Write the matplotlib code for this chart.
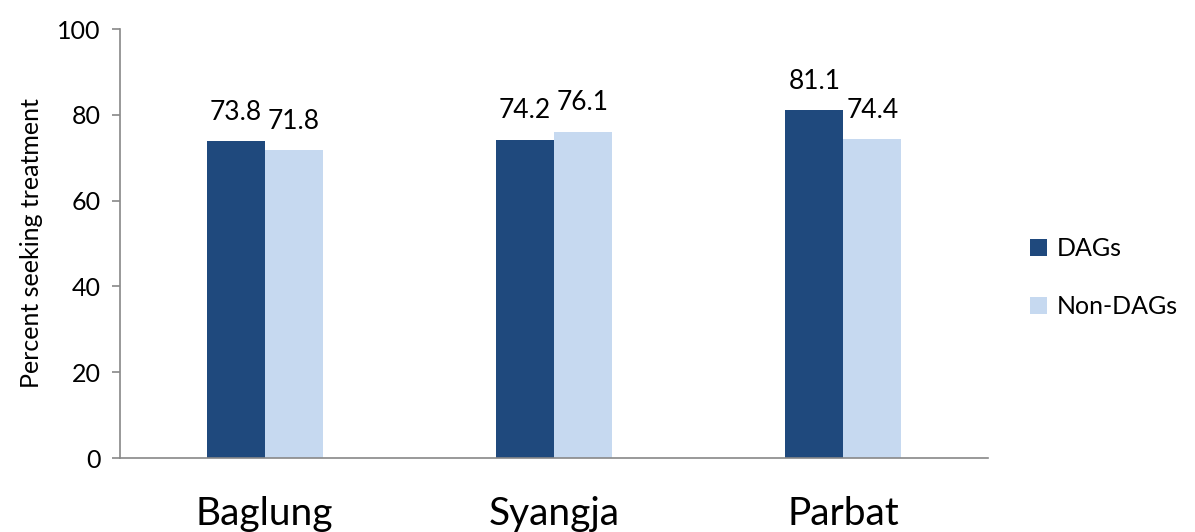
import numpy as np
import matplotlib.pyplot as plt

plt.rcParams['font.family'] = ['Lato', 'DejaVu Sans']

districts = ['Baglung', 'Syangja', 'Parbat']
dags = [73.8, 74.2, 81.1]
non_dags = [71.8, 76.1, 74.4]
series_names = ['DAGs', 'Non-DAGs']
colors = ['#1f497d', '#c6d9f0']

fig = plt.figure(figsize=(11.95, 5.32), dpi=100)
ax = fig.add_axes([0.1004, 0.139, 0.7264, 0.8064])

x = np.arange(len(districts))
w = 0.2
b1 = ax.bar(x - w / 2, dags, w, color=colors[0], label=series_names[0])
b2 = ax.bar(x + w / 2, non_dags, w, color=colors[1], label=series_names[1])

for bars in (b1, b2):
    for r in bars:
        ax.text(r.get_x() + r.get_width() / 2, r.get_height() + 3.8,
                f'{r.get_height():.1f}', ha='center', va='bottom', fontsize=19)

ax.set_xlim(-0.5, 2.5)
ax.set_ylim(0, 100)
ax.set_yticks([0, 20, 40, 60, 80, 100])
ax.set_xticks(x)
ax.set_xticklabels(districts, fontsize=28)
ax.tick_params(axis='x', length=0, pad=27)
ax.tick_params(axis='y', labelsize=18, length=6, color='#888888', width=1.2, pad=8)
ax.set_ylabel('Percent seeking treatment', fontsize=18, labelpad=10)

for s in ['top', 'right']:
    ax.spines[s].set_visible(False)
for s in ['left', 'bottom']:
    ax.spines[s].set_color('#888888')
    ax.spines[s].set_linewidth(1.2)

ax.legend(loc='center left', bbox_to_anchor=(1.048, 0.42), frameon=False,
          fontsize=18, handlelength=0.7, handleheight=0.7, labelspacing=1.4,
          handletextpad=0.4, borderaxespad=0, borderpad=0)

fig.savefig('out.png', dpi=100)
